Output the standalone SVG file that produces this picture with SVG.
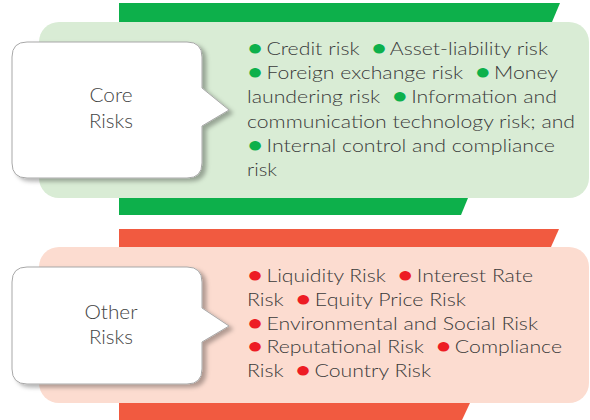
<svg xmlns="http://www.w3.org/2000/svg" width="590" height="420" viewBox="0 0 590 420">
<style>
.txt{font-family:Lato,"Liberation Sans",sans-serif;font-weight:300;font-size:17.5px;fill:#3a3a3a}
.lbl{font-family:Lato,"Liberation Sans",sans-serif;font-weight:300;font-size:19px;fill:#444444;text-anchor:middle}
.bul{font-family:"DejaVu Sans",sans-serif;font-size:22px;letter-spacing:-2px}
.g{fill:#0db04b}
.r{fill:#ed1c24}
.call{fill:#ffffff;stroke:#a8a8a8;stroke-width:1}
</style>
<defs>
<filter id="sh" x="-20%" y="-20%" width="150%" height="150%">
<feDropShadow dx="4" dy="3" stdDeviation="2" flood-color="#000" flood-opacity="0.3"/>
</filter>
</defs>
<g id="core">
<polygon points="119,3 560,3 552,22 119,22" fill="#0db04b"/>
<polygon points="119,198 468,198 461,215 119,215" fill="#0db04b"/>
<rect x="39" y="22" width="550" height="176" rx="20" fill="#d9ecd5"/>
<path class="call" filter="url(#sh)" d="M27,42 H187 Q202,42 202,57 V88 L229,110 L202,126 V163 Q202,178 187,178 H27 Q12,178 12,163 V57 Q12,42 27,42 Z"/>
<text class="lbl" x="111" y="102" textLength="43" lengthAdjust="spacingAndGlyphs">Core</text>
<text class="lbl" x="111" y="128" textLength="44" lengthAdjust="spacingAndGlyphs">Risks</text>
<text class="txt"><tspan x="247" y="55" textLength="301" lengthAdjust="spacingAndGlyphs"><tspan class="bul g">●</tspan> Credit risk &#160;<tspan class="bul g">●</tspan> Asset-liability risk</tspan><tspan x="247" y="79" textLength="311" lengthAdjust="spacingAndGlyphs"><tspan class="bul g">●</tspan> Foreign exchange risk &#160;<tspan class="bul g">●</tspan> Money</tspan><tspan x="247" y="103" textLength="310" lengthAdjust="spacingAndGlyphs">laundering risk &#160;<tspan class="bul g">●</tspan> Information and</tspan><tspan x="247" y="128" textLength="328" lengthAdjust="spacingAndGlyphs">communication technology risk; and</tspan><tspan x="247" y="152" textLength="308" lengthAdjust="spacingAndGlyphs"><tspan class="bul g">●</tspan> Internal control and compliance</tspan><tspan x="247" y="176" textLength="30" lengthAdjust="spacingAndGlyphs">risk</tspan></text>
</g>
<g id="other">
<polygon points="119,229 559,229 551,247 119,247" fill="#f15a40"/>
<polygon points="119,403 470,403 462,420 119,420" fill="#f15a40"/>
<rect x="39" y="247" width="550" height="156" rx="20" fill="#fcdcd0"/>
<path class="call" filter="url(#sh)" d="M27,267 H187 Q202,267 202,282 V308 L229,326 L202,342 V369 Q202,384 187,384 H27 Q12,384 12,369 V282 Q12,267 27,267 Z"/>
<text class="lbl" x="111" y="319" textLength="53" lengthAdjust="spacingAndGlyphs">Other</text>
<text class="lbl" x="111" y="344" textLength="44" lengthAdjust="spacingAndGlyphs">Risks</text>
<text class="txt"><tspan x="247" y="282" textLength="286" lengthAdjust="spacingAndGlyphs"><tspan class="bul r">●</tspan> Liquidity Risk &#160;<tspan class="bul r">●</tspan> Interest Rate</tspan><tspan x="247" y="306" textLength="219" lengthAdjust="spacingAndGlyphs">Risk &#160;<tspan class="bul r">●</tspan> Equity Price Risk</tspan><tspan x="247" y="330" textLength="291" lengthAdjust="spacingAndGlyphs"><tspan class="bul r">●</tspan> Environmental and Social Risk</tspan><tspan x="247" y="353" textLength="315" lengthAdjust="spacingAndGlyphs"><tspan class="bul r">●</tspan> Reputational Risk &#160;<tspan class="bul r">●</tspan> Compliance</tspan><tspan x="247" y="377" textLength="184" lengthAdjust="spacingAndGlyphs">Risk &#160;<tspan class="bul r">●</tspan> Country Risk</tspan></text>
</g>
</svg>
